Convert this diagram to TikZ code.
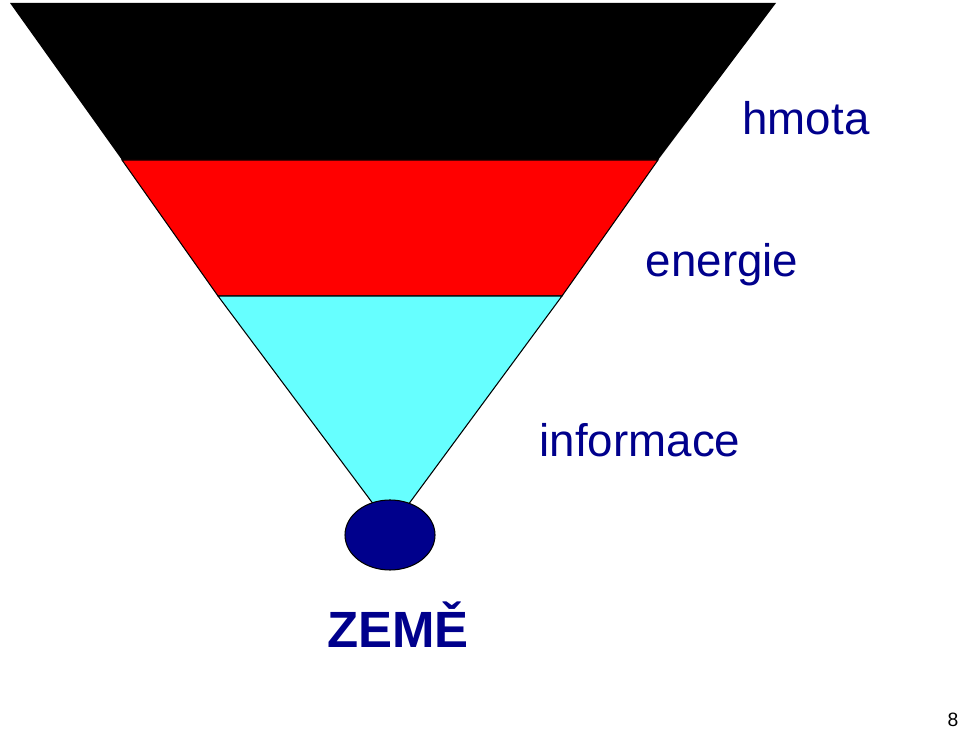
\documentclass[tikz,border=0pt]{standalone}
\usepackage{fontspec}
\setmainfont{Liberation Sans}
\definecolor{navy}{RGB}{0,0,140}
\definecolor{aqua}{RGB}{102,255,255}
\begin{document}
\begin{tikzpicture}[
    x=0.02cm, y=-0.02cm,
    band/.style={draw=black, line width=0.6pt},
    word/.style={text=navy, font=\fontsize{26}{30}\selectfont, inner sep=0pt},
  ]
  \useasboundingbox (0,0) rectangle (960,732);
  % funnel bands
  \fill[black] (10,3) -- (776,3) -- (658,160) -- (122,160) -- cycle;
  \filldraw[band, fill=red] (122,160) -- (658,160) -- (562,296) -- (218,296) -- cycle;
  \filldraw[band, fill=aqua] (218,296) -- (562,296) -- (408,505) -- (374,505) -- cycle;
  % earth
  \filldraw[band, fill=navy] (390,535) ellipse [x radius=45, y radius=35];
  % labels
  \node[word] (hmota) at (806,118) {hmota};
  \node[word] (energie) at (722,265) {energie};
  \node[word] (informace) at (640,440) {informace};
  \node[word, font=\fontsize{29}{33}\selectfont\bfseries] (zeme) at (398,625) {ZEMĚ};
  \node[font=\fontsize{11}{13}\selectfont, inner sep=0pt] (page) at (953,720) {8};
\end{tikzpicture}
\end{document}
